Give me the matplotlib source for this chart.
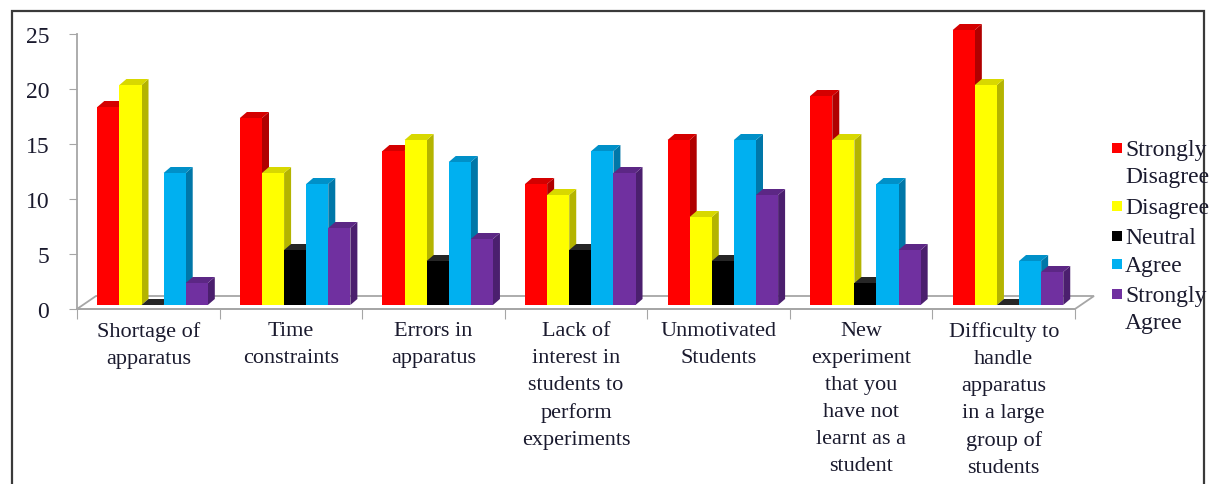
import matplotlib
matplotlib.use("Agg")
import matplotlib.pyplot as plt
from matplotlib.patches import Polygon, Rectangle

plt.rcParams['font.family'] = ['Liberation Serif', 'DejaVu Serif']

# data
categories = ["Shortage of\napparatus", "Time\nconstraints", "Errors in\napparatus",
              "Lack of\ninterest in\nstudents to\nperform\nexperiments",
              "Unmotivated\nStudents",
              "New\nexperiment\nthat you\nhave not\nlearnt as a\nstudent",
              "Difficulty to\nhandle\napparatus\nin a large\ngroup of\nstudents"]
series_names = ["Strongly\nDisagree", "Disagree", "Neutral", "Agree", "Strongly\nAgree"]
strongly_disagree = [18, 17, 14, 11, 15, 19, 25]
disagree = [20, 12, 15, 10, 8, 15, 20]
neutral = [0, 5, 4, 5, 4, 2, 0]
agree = [12, 11, 13, 14, 15, 11, 4]
strongly_agree = [2, 7, 6, 12, 10, 5, 3]
y_ticks = [0, 5, 10, 15, 20, 25]

series = [strongly_disagree, disagree, neutral, agree, strongly_agree]
front_colors = ['#ff0000', '#ffff00', '#000000', '#00b0f0', '#7030a0']
side_colors = ['#b00000', '#b4b400', '#000000', '#0077a8', '#4b1f6e']
top_colors = ['#d40000', '#d8d800', '#262626', '#0090c8', '#5c2785']

W, H = 1214, 485
fig = plt.figure(figsize=(W / 100, H / 100), dpi=100)

# axes placed by pixel box: left 77, right 1075, top 35, bottom 310
ax = fig.add_axes([77 / W, 1 - 310 / H, (1075 - 77) / W, (310 - 35) / H])
ax.set_xlim(0, len(categories))
ax.set_ylim(0, 25)

px_x = (1075 - 77) / len(categories)   # pixels per x unit
px_y = (310 - 35) / 25                 # pixels per y unit

w = 0.155
dx, dy = 7 / px_x, 6 / px_y            # bar depth
base = 4 / px_y                        # bars sit a bit behind the front plane
fdx, fdy = 19 / px_x, 13 / px_y        # floor depth

gray = '#a6a6a6'
# floor
floor = Polygon([(0, 0), (len(categories), 0), (len(categories) + fdx, fdy), (fdx, fdy)],
                closed=True, facecolor='white', edgecolor=gray, lw=1.3, zorder=1, clip_on=False)
ax.add_patch(floor)

z = 3
for i in range(len(categories)):
    for j, vals in enumerate(series):
        v = vals[i]
        x0 = i + 0.1425 + j * w
        b = base
        top = b + v
        front = Rectangle((x0, b), w, v, facecolor=front_colors[j], edgecolor='none',
                          zorder=z, clip_on=False)
        side = Polygon([(x0 + w, b), (x0 + w + dx, b + dy), (x0 + w + dx, top + dy), (x0 + w, top)],
                       closed=True, facecolor=side_colors[j], edgecolor='none', zorder=z, clip_on=False)
        cap = Polygon([(x0, top), (x0 + w, top), (x0 + w + dx, top + dy), (x0 + dx, top + dy)],
                      closed=True, facecolor=top_colors[j], edgecolor='none', zorder=z, clip_on=False)
        ax.add_patch(side)
        ax.add_patch(cap)
        ax.add_patch(front)
        z += 1

for s in ['top', 'right']:
    ax.spines[s].set_visible(False)
for s in ['left', 'bottom']:
    ax.spines[s].set_color(gray)
    ax.spines[s].set_linewidth(1.3)
    ax.spines[s].set_zorder(2)

ax.set_yticks(y_ticks)
ax.set_yticklabels([str(t) for t in y_ticks])
ax.tick_params(axis='y', direction='out', length=6, color=gray, pad=14,
               labelsize=17, labelcolor='#1a1a2e')
ax.set_xticks(range(len(categories) + 1))
ax.set_xticklabels([])
ax.tick_params(axis='x', which='major', direction='out', length=7, color=gray)
ax.set_xticks([i + 0.5 for i in range(len(categories))], minor=True)
ax.set_xticklabels(categories, minor=True, fontsize=16, color='#1a1a2e', linespacing=1.56)
ax.tick_params(axis='x', which='minor', length=0, pad=9)

# legend, drawn by hand so the key sits on the first line of each label
leg_y = [149, 207, 237, 265, 295]
for j, name in enumerate(series_names):
    yy = leg_y[j]
    fig.add_artist(Rectangle(((1112) / W, 1 - (yy + 5) / H), 10 / W, 10 / H,
                             transform=fig.transFigure, facecolor=front_colors[j],
                             edgecolor='none'))
    fig.text(1125 / W, 1 - (yy - 9) / H, name, fontsize=17, color='#1a1a2e',
             va='top', ha='left', linespacing=1.4)

# outer frame
fig.add_artist(Rectangle((12 / W, -0.1), (1204 - 12) / W, 1.1 - 12 / H,
                         transform=fig.transFigure, facecolor='none',
                         edgecolor='#3a3a3a', lw=1.6, clip_on=False))

fig.savefig('out.png', dpi=100)
